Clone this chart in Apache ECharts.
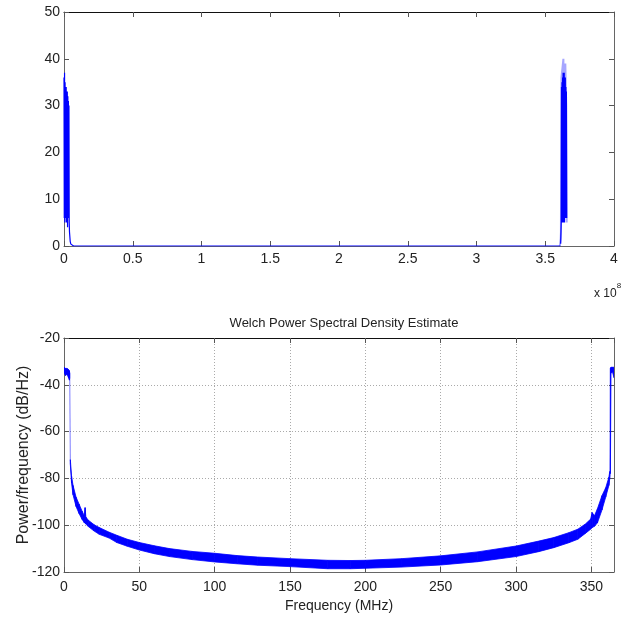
<!DOCTYPE html>
<html>
<head>
<meta charset="utf-8">
<script src="https://cdn.jsdelivr.net/npm/echarts@6/dist/echarts.min.js"></script>
<style>
  html, body { margin: 0; padding: 0; background: #fff; }
  #main { width: 625px; height: 620px; }
</style>
</head>
<body>
<div id="main"></div>
<script>
// top plot: raw spectrum magnitude, x in units of 1e8
const spikeLX = [0, 0.002, 0.004, 0.006, 0.008, 0.010, 0.012, 0.014, 0.016, 0.018, 0.020, 0.022, 0.024, 0.026, 0.028, 0.030, 0.032, 0.034, 0.036, 0.038, 0.040, 0.045, 0.050, 0.063, 0.070, 3.600, 3.610];
const spikeLY = [36, 6, 37, 5, 35, 7, 34, 6, 34, 5, 33, 8, 33, 4, 32, 6, 31, 9, 30, 5, 3, 1, 0.4, 0.3, 0, 0, 0];
const spikeRX = [3.612, 3.616, 3.618, 3.620, 3.622, 3.624, 3.626, 3.628, 3.630, 3.632, 3.634, 3.636, 3.638, 3.640, 3.642, 3.644, 3.646, 3.648, 3.650, 3.652, 3.654, 3.656];
const spikeRY = [0.5, 5, 34, 6, 35, 5, 36, 7, 37, 5, 36, 6, 37, 5, 35, 8, 36, 6, 34, 7, 33, 6];
const glowRX = [3.606, 3.612, 3.614, 3.618, 3.632, 3.634, 3.638, 3.646, 3.652, 3.656];
const glowRY = [0, 1.5, 3, 36, 40, 40, 8, 39, 30, 5];

// bottom plot: Welch PSD band (upper / lower envelope), MHz vs dB/Hz
const psdF = [0, 1, 2, 3, 3.6, 3.8, 4.2, 5, 6, 8, 10, 12, 13.5, 14, 14.5, 16, 20, 23.4, 30, 35, 42, 50, 60, 70, 85, 100, 115, 128.5, 150, 175, 190, 200, 224, 250, 274.5, 300, 315, 325, 335, 341, 346, 349.5, 350.5, 352, 354, 357, 359.5, 361.6, 362.2, 362.6, 363, 364, 365];
const psdHi = [-32.5, -33, -33, -33.5, -34, -35, -72, -79, -83, -88, -91, -94, -96, -92.5, -96.5, -97.8, -99.8, -101, -103, -104.3, -106, -107.4, -108.8, -110, -111.2, -112, -113, -113.6, -114.3, -115, -115.1, -115, -114.3, -113.1, -111.4, -108.9, -106.8, -105.3, -103.2, -101.7, -99.5, -97.4, -94.6, -96, -93, -87.4, -84, -79.5, -77, -33, -32.5, -32.5, -32.5];
const psdLo = [-35, -36, -35.5, -37, -38, -37, -74, -82, -87, -92, -95, -97.5, -99, -99, -99.5, -100.5, -102.5, -103.9, -105.5, -107.4, -109, -110.6, -112.2, -113.4, -114.7, -115.7, -116.5, -117.1, -117.7, -118.6, -118.6, -118.4, -117.9, -117, -115.6, -113.4, -111.3, -109.6, -107.5, -106, -103.5, -101.7, -101, -100.5, -99, -93.5, -88, -83, -80, -78, -35, -34.5, -37];

const topTicks = [0, 10, 20, 30, 40, 50];
const psdTicks = [-120, -100, -80, -60, -40, -20];

const FONT = "'Liberation Sans', Arial, sans-serif";
const BLUE = '#0000ff';

function pairs(xs, ys) {
  return xs.map((x, i) => [x, ys[i]]);
}

function boxAxis(gridIndex, pos, min, max, interval) {
  let ax = {
    gridIndex: gridIndex,
    type: 'value',
    position: pos,
    min: min,
    max: max,
    interval: interval,
    axisLine: { show: true, onZero: false, lineStyle: { color: pos == 'top' ? '#111' : '#666', width: 1 } },
    axisTick: { show: true, inside: true, length: 5, lineStyle: { color: '#555' } },
    axisLabel: { show: false },
    splitLine: { show: false }
  };
  return ax;
}

// one quad per segment of the band, placed with the axis scales
function renderBand(params, api) {
  let i = params.dataIndex;
  if (i >= psdF.length - 1) return null;
  let pts = [
    api.coord([psdF[i], psdHi[i]]),
    api.coord([psdF[i + 1], psdHi[i + 1]]),
    api.coord([psdF[i + 1], psdLo[i + 1]]),
    api.coord([psdF[i], psdLo[i]])
  ];
  let jump = Math.abs(psdHi[i + 1] - psdHi[i]) > 20;
  return {
    type: 'polygon',
    shape: { points: pts },
    style: { fill: jump ? 'rgba(0,0,255,0.35)' : BLUE, stroke: jump ? 'rgba(0,0,255,0.35)' : BLUE, lineWidth: 0.8 }
  };
}

let chart = echarts.init(document.getElementById('main'));

let labelStyle = { color: '#222', fontFamily: FONT, fontSize: 14 };

let xBottomTop = boxAxis(0, 'bottom', 0, 4, 0.5);
xBottomTop.axisLabel = Object.assign({ show: true, margin: 6 }, labelStyle);

let xBottomPsd = boxAxis(1, 'bottom', 0, 365, 50);
xBottomPsd.axisLabel = Object.assign({ show: true, margin: 8, showMaxLabel: false }, labelStyle);
xBottomPsd.splitLine = { show: true, lineStyle: { color: '#aaa', type: [1, 2], width: 1 } };
xBottomPsd.name = 'Frequency (MHz)';
xBottomPsd.nameLocation = 'middle';
xBottomPsd.nameGap = 27;
xBottomPsd.nameTextStyle = { color: '#222', fontFamily: FONT, fontSize: 14 };

let yLeftTop = boxAxis(0, 'left', topTicks[0], topTicks[topTicks.length - 1], 10);
yLeftTop.axisLabel = Object.assign({ show: true, margin: 4 }, labelStyle);

let yLeftPsd = boxAxis(1, 'left', psdTicks[0], psdTicks[psdTicks.length - 1], 20);
yLeftPsd.axisLabel = Object.assign({ show: true, margin: 4 }, labelStyle);
yLeftPsd.splitLine = { show: true, lineStyle: { color: '#aaa', type: [1, 2], width: 1 } };
yLeftPsd.name = 'Power/frequency (dB/Hz)';
yLeftPsd.nameLocation = 'middle';
yLeftPsd.nameGap = 32;
yLeftPsd.nameMoveOverlap = false;
yLeftPsd.nameTextStyle = { color: '#222', fontFamily: FONT, fontSize: 16 };

let option = {
  animation: false,
  backgroundColor: '#fff',
  title: {
    text: 'Welch Power Spectral Density Estimate',
    left: 339,
    top: 312,
    textAlign: 'center',
    textStyle: { color: '#222', fontFamily: FONT, fontSize: 13, fontWeight: 'normal' }
  },
  grid: [
    { left: 64, right: 11, top: 12, height: 234, containLabel: false, outerBoundsMode: 'none' },
    { left: 64, right: 11, top: 338, height: 234, containLabel: false, outerBoundsMode: 'none' }
  ],
  xAxis: [xBottomTop, boxAxis(0, 'top', 0, 4, 0.5), xBottomPsd, boxAxis(1, 'top', 0, 365, 50)],
  yAxis: [yLeftTop, boxAxis(0, 'right', 0, 50, 10), yLeftPsd, boxAxis(1, 'right', -120, -20, 20)],
  graphic: [{
    type: 'text',
    left: 594,
    top: 282,
    style: {
      text: '{a|x 10}{b|8}',
      rich: {
        a: { fontFamily: FONT, fontSize: 12, fill: '#222', padding: [6, 0, 0, 0] },
        b: { fontFamily: FONT, fontSize: 8, fill: '#222', verticalAlign: 'top' }
      }
    }
  }],
  series: [
    {
      type: 'line', xAxisIndex: 0, yAxisIndex: 0, showSymbol: false, z: 3,
      data: pairs(glowRX, glowRY),
      lineStyle: { color: BLUE, width: 2, opacity: 0.35 }
    },
    {
      type: 'line', xAxisIndex: 0, yAxisIndex: 0, showSymbol: false, z: 4,
      data: pairs(spikeLX, spikeLY),
      lineStyle: { color: BLUE, width: 1.2 }
    },
    {
      type: 'line', xAxisIndex: 0, yAxisIndex: 0, showSymbol: false, z: 4,
      data: pairs(spikeRX, spikeRY),
      lineStyle: { color: BLUE, width: 1.2 }
    },
    {
      type: 'custom', xAxisIndex: 2, yAxisIndex: 2, z: 4, clip: true,
      data: psdF.map((f, i) => [f, psdHi[i], psdLo[i]]),
      encode: { x: 0, y: [1, 2] },
      renderItem: renderBand
    }
  ]
};

chart.setOption(option);
</script>
</body>
</html>
